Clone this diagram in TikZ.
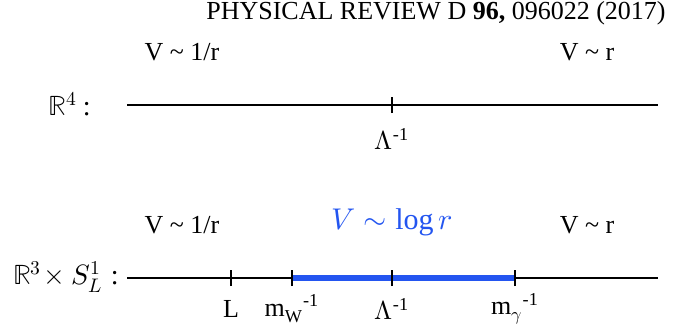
\documentclass[tikz,border=0pt]{standalone}
\usepackage{amsmath,amssymb}
\usepackage{fontspec}
\setmainfont{Liberation Serif}
\usepackage{unicode-math}
\setmathfont{Latin Modern Math}
\usetikzlibrary{positioning}
\definecolor{logblue}{RGB}{35,85,240}

\begin{document}
\begin{tikzpicture}[
    x=0.5pt, y=-0.5pt,
    line cap=butt,
    axis line/.style={line width=0.8pt},
    tick/.style={line width=0.8pt},
    pot label/.style={font=\fontsize{13}{15}\selectfont, inner sep=0pt},
    scale label/.style={font=\fontsize{13}{15}\selectfont, inner sep=0pt},
    space label/.style={font=\fontsize{14}{16}\selectfont, inner sep=0pt}
]
  \useasboundingbox (0,0) rectangle (684,326);

  % Header
  \node[anchor=east, inner sep=0pt, font=\fontsize{13}{15}\selectfont] (head) at (666,13)
    {PHYSICAL REVIEW D \textbf{96,} 096022 (2017)};

  % R^4 line
  \coordinate (a1) at (127,105);
  \coordinate (a2) at (658,105);
  \coordinate (lam1) at (392,105);
  \draw[axis line] (a1) -- (a2);
  \draw[tick] ([yshift=-8*0.5pt]lam1) -- ([yshift=8*0.5pt]lam1);
  \node[space label, anchor=east] (rfour) at (91,104) {$\mathbb{R}^4$\hspace{3pt}:};
  \node[scale label] (lamlab1) at (392,139) {$\Lambda$\textsuperscript{-1}};
  \node[pot label] (coul1) at (182,52) {V \textasciitilde\ 1/r};
  \node[pot label] (conf1) at (587,52) {V \textasciitilde\ r};

  % R^3 x S^1 line
  \coordinate (b1) at (127,278);
  \coordinate (b2) at (658,278);
  \coordinate (tL) at (231,278);
  \coordinate (tW) at (292,278);
  \coordinate (lam2) at (392,278);
  \coordinate (tG) at (515,278);
  \draw[axis line] (b1) -- (b2);
  \draw[logblue, line width=2.6pt] (tW) -- (tG);
  \foreach \t in {tL,tW,lam2,tG}
    \draw[tick] ([yshift=-8*0.5pt]\t) -- ([yshift=8*0.5pt]\t);
  \node[space label, anchor=east] (rthree) at (119,277) {$\mathbb{R}^3\!\times S^1_L$\hspace{4pt}:};
  \node[scale label] (Llab) at (231,309) {L};
  \node[scale label] (mWlab) at (292,309) {m\textsubscript{W}\textsuperscript{-1}};
  \node[scale label] (lamlab2) at (392,309) {$\Lambda$\textsuperscript{-1}};
  \node[scale label] (mGlab) at (515,309) {m\textsubscript{$\gamma$}\textsuperscript{-1}};
  \node[pot label] (coul2) at (182,225) {V \textasciitilde\ 1/r};
  \node[pot label, text=logblue, font=\fontsize{15}{18}\selectfont] (logpot) at (392,222) {$V \sim \log r$};
  \node[pot label] (conf2) at (587,225) {V \textasciitilde\ r};
\end{tikzpicture}
\end{document}
